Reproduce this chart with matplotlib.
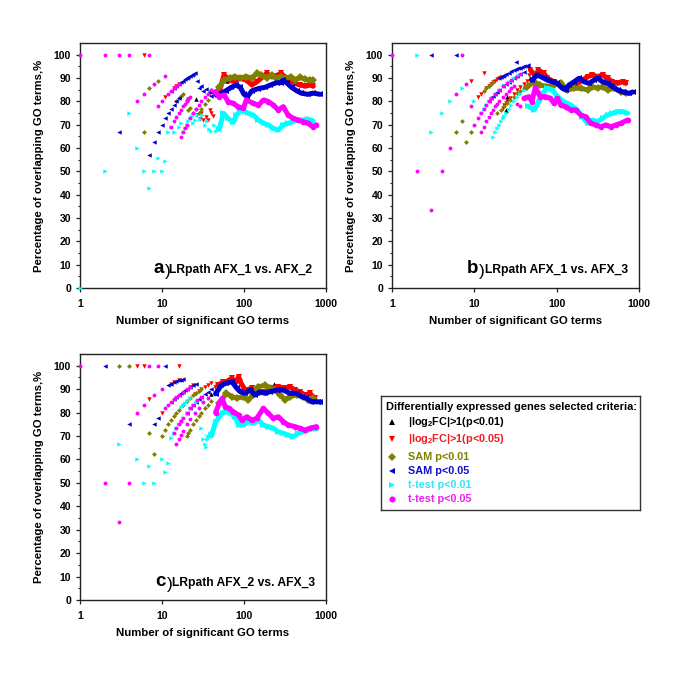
import matplotlib
matplotlib.use('Agg')
import matplotlib.pyplot as plt
from matplotlib.ticker import FixedLocator, FuncFormatter, NullLocator

plt.rcParams['font.family'] = ['Liberation Sans', 'DejaVu Sans']
plt.rcParams['font.weight'] = 'bold'
plt.rcParams['mathtext.fontset'] = 'custom'
plt.rcParams['mathtext.rm'] = 'Liberation Sans:bold'
plt.rcParams['mathtext.bf'] = 'Liberation Sans:bold'
plt.rcParams['mathtext.it'] = 'Liberation Sans:bold'
plt.rcParams['mathtext.default'] = 'rm'

# ---------------- Panel a : LRpath AFX_1 vs. AFX_2 ----------------
a_black_x = [26, 48, 62, 90, 230]
a_black_y = [80.8, 85.4, 88.7, 90.0, 91.3]
a_red_x = [6, 11, 14, 15, 16, 20, 21, 27, 29, 30, 32, 34, 36, 38, 40, 42]
a_red_y = [100, 81.8, 85.7, 86.7, 87.5, 80.0, 81.0, 74.1, 72.4, 75.0, 71.9, 73.5, 72.2, 76.3, 75.0, 73.8]
a_red_band_x = [50, 57, 67, 77, 89, 107, 125, 145, 163, 189, 218, 248, 283, 328, 375, 420, 480, 560, 640, 700]
a_red_band_y = [84.0, 91.3, 89.0, 88.5, 90.0, 89.0, 87.0, 88.5, 90.0, 92.0, 90.5, 91.0, 92.0, 90.0, 89.0, 87.7, 87.0, 86.5, 87.0, 86.5]
a_olive_x = [6, 7, 9, 15, 16, 17, 18, 20, 21, 22, 24, 26, 28, 30, 33, 36, 38, 40, 43, 46]
a_olive_y = [66.7, 85.7, 88.9, 80.0, 81.3, 82.4, 83.3, 80.0, 76.2, 77.3, 75.0, 76.9, 75.0, 76.7, 78.8, 80.6, 84.2, 85.0, 83.7, 84.8]
a_olive_band_x = [50, 57, 67, 77, 89, 107, 125, 145, 163, 189, 218, 248, 283, 328, 375, 420, 480, 560, 640, 700]
a_olive_band_y = [86.0, 89.0, 90.0, 90.6, 90.0, 90.6, 90.0, 92.0, 91.3, 90.1, 91.3, 89.9, 90.6, 90.0, 90.6, 89.0, 90.3, 89.5, 89.0, 89.0]
a_blue_x = [3, 7, 8, 9, 10, 11, 12, 13, 14, 15, 16, 13, 14, 15, 16, 17, 18, 19, 20, 21, 22, 23, 24, 25,
            27, 28, 30, 32, 34, 36, 38, 40, 43]
a_blue_y = [66.7, 57.1, 62.5, 66.7, 70.0, 72.7, 75.0, 76.9, 78.6, 80.0, 81.3, 84.6, 85.7, 86.7, 87.5, 88.2, 88.9,
            89.5, 90.0, 90.5, 90.9, 91.3, 91.7, 92.0, 88.9, 85.7, 86.7, 84.4, 85.3, 83.3, 84.2, 82.5, 83.7]
a_blue_band_x = [46, 50, 60, 70, 80, 90, 100, 110, 125, 150, 180, 210, 250, 280, 300, 330, 380, 440, 500, 600, 700, 850]
a_blue_band_y = [82.6, 83.0, 84.5, 86.0, 87.0, 86.0, 83.0, 82.0, 84.5, 85.5, 86.0, 87.0, 88.0, 88.0, 89.0, 88.0, 86.0, 84.5, 83.5, 83.0, 83.5, 83.0]
a_cyan_x = [1, 2, 4, 5, 6, 7, 8, 9, 10, 11, 12, 13, 14, 16, 17, 18, 19, 20, 21, 22, 23, 24, 25, 27, 29, 31,
            33, 35, 37, 40, 43, 46]
a_cyan_y = [0, 50, 75, 60, 50, 42.9, 50, 55.6, 50, 54.5, 66.7, 69.2, 66.7, 68.8, 70.6, 66.7, 68.4, 70.0, 71.4,
            72.7, 73.9, 70.8, 72.0, 74.1, 72.4, 74.2, 69.7, 71.4, 68.3, 67.5, 69.8, 67.4]
a_cyan_band_x = [50, 56, 64, 74, 81, 92, 102, 113, 130, 150, 173, 198, 228, 262, 301, 346, 397, 457, 525, 603, 693]
a_cyan_band_y = [68.0, 74.9, 72.7, 71.0, 74.1, 76.3, 75.6, 74.9, 74.1, 72.0, 70.6, 69.9, 68.4, 67.7, 69.9, 70.6, 71.3, 72.0, 72.0, 72.4, 71.6]
a_mag_x = [1, 2, 3, 4, 7, 5, 6, 8, 11, 9, 10, 12, 13, 14, 15, 16, 13, 14, 15, 16, 17, 18, 19, 20, 21, 22,
           17, 18, 19, 20, 22, 24, 26, 28, 30, 33, 36, 40]
a_mag_y = [100, 100, 100, 100, 100, 80, 83.3, 87.5, 90.9, 77.8, 80, 83.3, 84.6, 85.7, 86.7, 87.5, 69.2, 71.4,
           73.3, 75, 76.5, 77.8, 78.9, 80, 81, 81.8, 64.7, 66.7, 68.4, 70, 72.7, 75, 76.9, 78.6, 80, 81.8, 83.3, 85]
a_mag_band_x = [44, 50, 57, 64, 74, 85, 98, 107, 130, 150, 173, 198, 228, 262, 301, 346, 397, 457, 525, 603, 693, 762]
a_mag_band_y = [84.0, 82.0, 82.7, 79.9, 79.1, 77.7, 77.0, 80.6, 79.1, 78.4, 80.6, 79.9, 78.4, 76.3, 77.7, 74.1, 72.7, 72.0, 71.3, 70.6, 69.1, 69.9]

# ---------------- Panel b : LRpath AFX_1 vs. AFX_3 ----------------
b_black_x = [24, 25, 40, 47]
b_black_y = [76.3, 82.0, 86.0, 90.0]
b_red_x = [9, 11, 12, 13, 14, 15, 16, 17, 18, 19, 20, 21, 22, 23, 24, 25, 27, 30, 33, 36, 40, 44, 46]
b_red_y = [88.9, 81.8, 83.3, 92.3, 85.7, 86.7, 87.5, 88.2, 88.9, 89.5, 90.0, 90.5, 77.3, 78.3, 79.2, 80.0, 81.5,
           83.3, 84.8, 86.1, 87.5, 88.6, 91.3]
b_red_band_x = [48, 55, 60, 70, 77, 93, 112, 135, 155, 178, 205, 237, 272, 313, 360, 414, 476, 548, 630, 690]
b_red_band_y = [93.4, 91.0, 93.4, 92.0, 89.9, 88.4, 87.0, 84.9, 85.6, 87.7, 89.1, 90.6, 91.3, 90.6, 91.3, 89.9, 88.4, 87.7, 88.4, 87.7]
b_olive_x = [6, 7, 8, 9, 13, 14, 15, 16, 17, 19, 21, 23, 25, 27, 30, 33, 36, 40]
b_olive_y = [66.7, 71.4, 62.5, 66.7, 84.6, 85.7, 86.7, 87.5, 88.2, 74.9, 76.5, 78.0, 79.1, 80.5, 82.0, 83.4, 84.6, 85.5]
b_olive_band_x = [44, 53, 63, 77, 93, 112, 135, 163, 196, 237, 272, 313, 360, 414, 499, 600, 690]
b_olive_band_y = [86.3, 88.4, 87.0, 86.3, 87.0, 87.7, 84.9, 85.6, 85.6, 84.9, 86.3, 85.6, 86.3, 84.9, 85.6, 84.1, 83.4]
b_blue_x = [3, 6, 32, 15, 16, 17, 18, 19, 20, 22, 24, 26, 28, 30, 33, 36, 40, 20, 21, 22, 23, 24, 26, 28, 30,
            32, 34, 36, 38, 40, 43, 45]
b_blue_y = [100, 100, 96.9, 80.0, 81.3, 82.4, 83.3, 84.2, 85.0, 86.4, 87.5, 88.5, 89.3, 90.0, 90.9, 91.7, 92.5,
            90.0, 90.5, 90.9, 91.3, 91.7, 92.3, 92.9, 93.3, 93.8, 94.1, 94.4, 94.7, 95.0, 95.3, 95.6]
b_blue_band_x = [50, 58, 70, 77, 89, 102, 117, 128, 141, 163, 187, 215, 247, 284, 313, 360, 414, 476, 548, 630, 760, 835]
b_blue_band_y = [89.0, 91.3, 89.9, 89.1, 88.4, 87.7, 85.6, 84.9, 87.0, 88.4, 89.9, 88.4, 87.7, 89.1, 89.9, 88.4, 87.7, 86.3, 84.9, 84.1, 83.4, 84.0]
b_cyan_x = [2, 3, 4, 5, 7, 10, 12, 13, 14, 15, 16, 18, 20, 23, 26, 30, 34, 17, 18, 19, 20, 21, 22, 23, 24, 26,
            28, 30, 33, 36, 40]
b_cyan_y = [100, 66.7, 75, 80, 85.7, 80, 75, 76.9, 78.6, 80, 81.3, 83.3, 85, 87, 88.5, 90, 91.2, 64.7, 66.7,
            68.4, 70, 71.4, 72.7, 73.9, 75, 76.9, 78.6, 80, 81.8, 83.3, 85]
b_cyan_band_x = [45, 53, 61, 67, 77, 89, 102, 122, 148, 178, 205, 237, 272, 313, 360, 414, 476, 548, 630, 725]
b_cyan_band_y = [78.0, 76.3, 79.9, 83.4, 85.6, 84.9, 82.0, 79.9, 78.4, 76.3, 73.4, 70.6, 72.0, 71.3, 72.7, 74.1, 74.9, 75.6, 75.6, 74.9]
b_mag_x = [1, 7, 8, 6, 5, 2, 4, 3, 9, 10, 11, 12, 13, 14, 15, 16, 18, 20, 22, 25, 28, 32, 36, 12, 13, 14, 15,
           16, 17, 18, 19, 20, 22, 24, 26, 28, 30, 33, 36]
b_mag_y = [100, 100, 87.5, 83.3, 60, 50, 50, 33.3, 77.8, 70, 72.7, 75, 76.9, 78.6, 80, 81.3, 83.3, 85, 86.4,
           88, 89.3, 90.6, 91.7, 66.7, 69.2, 71.4, 73.3, 75, 76.5, 77.8, 78.9, 80, 81.8, 83.3, 84.6, 85.7, 86.7,
           78.8, 77.8]
b_mag_band_x = [40, 46, 50, 55, 63, 73, 84, 93, 102, 112, 128, 148, 170, 196, 225, 259, 299, 343, 395, 454, 523, 600, 725]
b_mag_band_y = [81.3, 82.0, 79.9, 86.0, 82.0, 82.0, 81.3, 79.1, 81.3, 78.4, 77.7, 76.3, 76.3, 74.1, 73.4, 70.6, 69.9, 69.1, 69.9, 69.1, 69.9, 70.6, 72.0]

# ---------------- Panel c : LRpath AFX_2 vs. AFX_3 ----------------
c_black_x = [40, 52, 70, 230]
c_black_y = [88.0, 92.0, 94.0, 92.0]
c_red_x = [5, 6, 16, 7, 10, 13, 14, 16, 22, 24, 25, 28, 30, 33, 36, 40, 44]
c_red_y = [100, 100, 100, 85.7, 80, 92.3, 92.9, 93.8, 90.9, 91.7, 88, 89.3, 90, 90.9, 91.7, 92.5, 90.9]
c_red_band_x = [48, 55, 61, 71, 80, 86, 90, 103, 124, 150, 181, 228, 262, 317, 362, 418, 480, 553, 636, 731]
c_red_band_y = [91.7, 93.0, 93.2, 94.6, 93.0, 95.3, 93.2, 89.6, 90.3, 88.2, 88.9, 90.3, 91.0, 90.3, 91.0, 89.6, 88.9, 87.5, 88.2, 86.1]
c_olive_x = [3, 4, 7, 8, 10, 11, 12, 13, 14, 15, 16, 18, 20, 22, 24, 26, 28, 30, 20, 21, 22, 24, 26, 28, 30,
             33, 36, 40]
c_olive_y = [100, 100, 71.4, 62.5, 70, 72.7, 75, 76.9, 78.6, 80, 81.3, 83.3, 85, 86.4, 87.5, 88.5, 89.3, 90,
             70, 71.4, 72.7, 75, 76.9, 78.6, 80, 81.8, 83.3, 85]
c_olive_band_x = [50, 61, 71, 82, 98, 113, 130, 150, 181, 208, 240, 276, 317, 362, 438, 528, 607, 697]
c_olive_band_y = [84.0, 88.2, 86.8, 86.1, 86.8, 85.4, 87.5, 91.0, 91.7, 90.3, 89.6, 87.5, 85.4, 86.8, 87.5, 86.8, 85.4, 86.1]
c_blue_x = [2, 11, 4, 8, 9, 13, 12, 13, 14, 15, 16, 17, 18, 14, 15, 16, 17, 18, 19, 20, 22, 24, 26, 20, 22,
            24, 26, 28, 30, 33, 36, 40]
c_blue_y = [100, 100, 75, 75, 77.8, 84.6, 91.7, 92.3, 92.9, 93.3, 93.8, 94.1, 94.4, 85.7, 86.7, 87.5, 88.2,
            88.9, 89.5, 90, 90.9, 91.7, 92.3, 80, 81.8, 83.3, 84.6, 85.7, 86.7, 87.9, 88.9, 90]
c_blue_band_x = [45, 53, 61, 71, 82, 90, 103, 119, 136, 157, 181, 208, 250, 302, 362, 438, 503, 578, 665, 801, 850]
c_blue_band_y = [88.0, 91.7, 92.5, 93.2, 90.3, 88.9, 88.2, 89.6, 87.5, 88.9, 88.2, 88.9, 89.6, 89.6, 88.2, 88.2, 86.8, 86.1, 84.6, 84.6, 84.5]
c_cyan_x = [3, 5, 6, 7, 8, 10, 11, 12, 13, 14, 15, 16, 17, 18, 20, 22, 24, 26, 17, 18, 19, 20, 22, 30, 32, 33,
            34, 35, 36, 38]
c_cyan_y = [66.7, 60, 50, 57.1, 50, 60, 54.5, 58.3, 69.2, 71.4, 73.3, 75, 76.5, 77.8, 80, 81.8, 83.3, 84.6,
            82.4, 83.3, 84.2, 85, 86.4, 73.3, 68.8, 66.7, 65.5, 68.6, 70, 71.1]
c_cyan_band_x = [40, 45, 50, 55, 62, 68, 78, 86, 98, 113, 130, 150, 172, 198, 228, 262, 302, 346, 398, 457, 528, 607, 697, 760]
c_cyan_band_y = [70.0, 76.0, 78.0, 80.0, 80.4, 79.7, 78.2, 74.7, 74.7, 76.1, 75.4, 76.8, 74.7, 74.0, 73.3, 71.8, 71.1, 70.4, 69.7, 71.1, 71.8, 72.5, 73.3, 73.0]
c_mag_x = [1, 7, 9, 2, 4, 3, 5, 6, 8, 10, 11, 12, 13, 14, 15, 16, 18, 20, 22, 14, 15, 16, 17, 18, 20, 22, 24,
           27, 30, 15, 16, 17, 18, 20, 22, 25, 28, 32, 36]
c_mag_y = [100, 100, 100, 50, 50, 33.3, 80, 83.3, 87.5, 90, 81.8, 83.3, 84.6, 85.7, 86.7, 87.5, 88.9, 90, 90.9,
           71.4, 73.3, 75, 76.5, 77.8, 80, 81.8, 83.3, 85.2, 86.7, 66.7, 68.8, 70.6, 72.2, 75, 77.3, 80, 82.1,
           84.4, 86.1]
c_mag_band_x = [45, 50, 54, 59, 65, 74, 86, 94, 108, 124, 143, 172, 198, 228, 262, 302, 346, 418, 480, 553, 636, 764]
c_mag_band_y = [80.0, 84.0, 86.0, 82.5, 81.8, 80.4, 78.9, 76.8, 78.2, 76.8, 77.5, 81.8, 79.7, 77.5, 78.2, 76.1, 74.7, 74.0, 73.3, 72.5, 73.3, 74.0]

# ---------------- legend / styles ----------------
legend_title = 'Differentially expressed genes selected criteria:'
series_labels = [r'|log$_2$FC|>1(p<0.01)', r'|log$_2$FC|>1(p<0.05)', 'SAM p<0.01', 'SAM p<0.05',
                 't-test p<0.01', 't-test p<0.05']
series_colors = ['#000000', '#FF0000', '#808000', '#0000CD', '#00FFFF', '#FF00FF']
text_colors = ['#000000', '#EE1C25', '#808000', '#1010C8', '#33E6F5', '#F020F0']
series_markers = ['^', 'v', 'D', '<', '>', 'o']
marker_sizes = [3.2, 3.2, 2.5, 3.2, 3.2, 2.8]

panels = [
    dict(pos=[0.1168, 0.5727, 0.3591, 0.3635], letter='a', title='LRpath AFX_1 vs. AFX_2',
         lx=0.298, tx=0.362, ty=0.062,
         series=[(a_black_x, a_black_y, None, None), (a_red_x, a_red_y, a_red_band_x, a_red_band_y),
                 (a_olive_x, a_olive_y, a_olive_band_x, a_olive_band_y),
                 (a_blue_x, a_blue_y, a_blue_band_x, a_blue_band_y),
                 (a_cyan_x, a_cyan_y, a_cyan_band_x, a_cyan_band_y),
                 (a_mag_x, a_mag_y, a_mag_band_x, a_mag_band_y)]),
    dict(pos=[0.5723, 0.5727, 0.3606, 0.3635], letter='b', title='LRpath AFX_1 vs. AFX_3',
         lx=0.303, tx=0.375, ty=0.062,
         series=[(b_black_x, b_black_y, None, None), (b_red_x, b_red_y, b_red_band_x, b_red_band_y),
                 (b_olive_x, b_olive_y, b_olive_band_x, b_olive_band_y),
                 (b_blue_x, b_blue_y, b_blue_band_x, b_blue_band_y),
                 (b_cyan_x, b_cyan_y, b_cyan_band_x, b_cyan_band_y),
                 (b_mag_x, b_mag_y, b_mag_band_x, b_mag_band_y)]),
    dict(pos=[0.1168, 0.1098, 0.3591, 0.3650], letter='c', title='LRpath AFX_2 vs. AFX_3',
         lx=0.305, tx=0.375, ty=0.058,
         series=[(c_black_x, c_black_y, None, None), (c_red_x, c_red_y, c_red_band_x, c_red_band_y),
                 (c_olive_x, c_olive_y, c_olive_band_x, c_olive_band_y),
                 (c_blue_x, c_blue_y, c_blue_band_x, c_blue_band_y),
                 (c_cyan_x, c_cyan_y, c_cyan_band_x, c_cyan_band_y),
                 (c_mag_x, c_mag_y, c_mag_band_x, c_mag_band_y)]),
]

fig = plt.figure(figsize=(6.85, 6.74), dpi=100)

for p in panels:
    ax = fig.add_axes(p['pos'])
    for i, (px, py, bx, by) in enumerate(p['series']):
        col = series_colors[i]
        mk = series_markers[i]
        ms = marker_sizes[i]
        z = 2 + i
        if bx is not None:
            ax.plot(bx, by, color=col, lw=3.6, solid_capstyle='round', solid_joinstyle='round',
                    zorder=z, clip_on=True)
            ax.plot(bx, by, ls='none', marker=mk, ms=ms + 1.2, color=col, mew=0, zorder=z)
        ax.plot(px, py, ls='none', marker=mk, ms=ms, color=col, mew=0, zorder=z + 0.5, clip_on=False)
    ax.set_xscale('log')
    ax.set_xlim(1, 1000)
    ax.set_ylim(0, 105)
    ax.xaxis.set_major_locator(FixedLocator([1, 10, 100, 1000]))
    ax.xaxis.set_minor_locator(NullLocator())
    ax.xaxis.set_major_formatter(FuncFormatter(lambda v, pos: '%d' % int(round(v))))
    ax.yaxis.set_major_locator(FixedLocator(list(range(0, 101, 10))))
    ax.yaxis.set_minor_locator(FixedLocator(list(range(5, 101, 10))))
    ax.tick_params(which='major', direction='out', length=3, width=0.9, labelsize=7.5, color='#222222')
    ax.tick_params(which='minor', direction='out', length=1.8, width=0.8, color='#222222')
    ax.tick_params(axis='x', pad=5)
    for s in ax.spines.values():
        s.set_linewidth(1.0)
        s.set_color('#222222')
    ax.set_xlabel('Number of significant GO terms', fontsize=8.2, fontweight='bold')
    ax.xaxis.set_label_coords(0.5, -0.115)
    ax.xaxis.label.set_va('top')
    ax.set_ylabel('Percentage of overlapping GO terms,%', fontsize=8.2, fontweight='bold')
    ax.yaxis.set_label_coords(-0.145, 0.5)
    ax.text(p['lx'], p['ty'], p['letter'], transform=ax.transAxes, fontsize=13.5, fontweight='bold',
            ha='left', va='baseline')
    ax.text(p['lx'] + 0.047, p['ty'] - 0.014, ')', transform=ax.transAxes, fontsize=12.5,
            fontweight='normal', ha='left', va='baseline')
    ax.text(p['tx'], p['ty'], p['title'], transform=ax.transAxes, fontsize=8.7, fontweight='bold',
            ha='left', va='baseline')

# legend box
lg = fig.add_axes([0.556, 0.2433, 0.378, 0.1692])
lg.set_xticks([])
lg.set_yticks([])
for s in lg.spines.values():
    s.set_linewidth(1.0)
    s.set_color('#333333')
lg.set_xlim(0, 1)
lg.set_ylim(0, 1)
lg.text(0.018, 0.905, legend_title, fontsize=7.9, fontweight='bold', color='black', va='center', ha='left')
entry_y = [0.775, 0.62, 0.465, 0.342, 0.22, 0.096]
for i, lab in enumerate(series_labels):
    lg.plot([0.042], [entry_y[i]], ls='none', marker=series_markers[i], ms=marker_sizes[i] + 1.6,
            color=series_colors[i], mew=0)
    lg.text(0.104, entry_y[i], lab, fontsize=7.8, fontweight='bold', color=text_colors[i],
            va='center', ha='left')

fig.savefig('out.png', dpi=100)
